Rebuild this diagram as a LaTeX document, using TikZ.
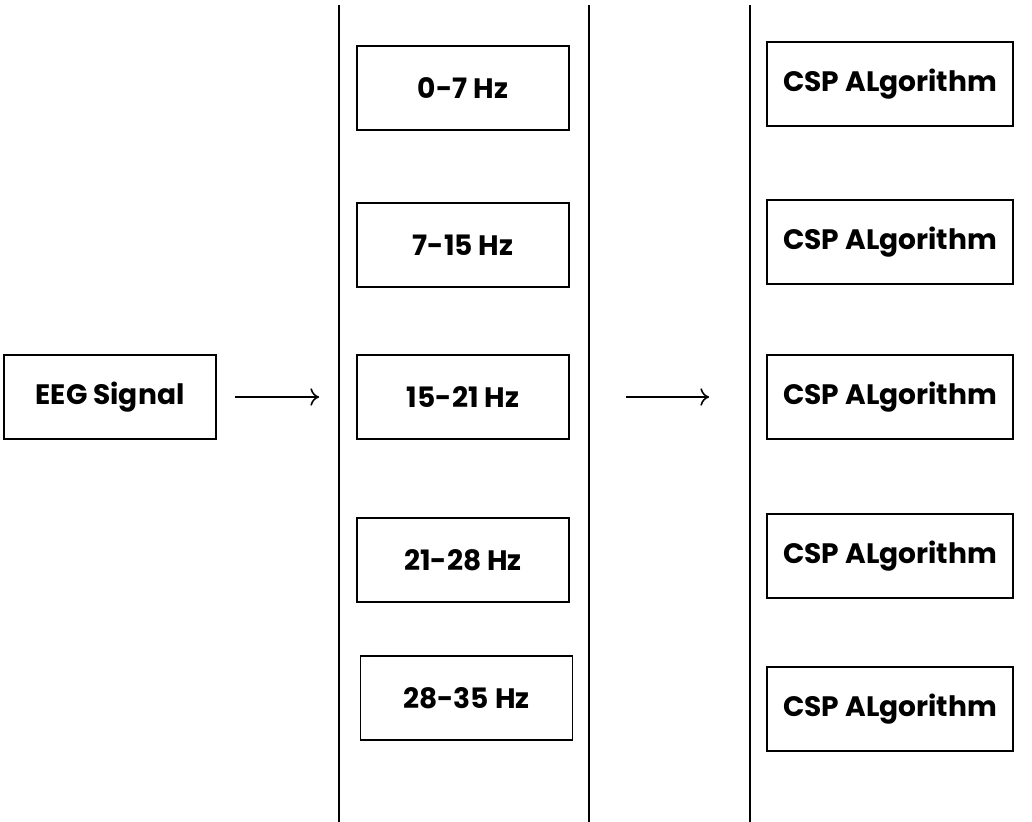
\documentclass[tikz,border=0pt]{standalone}
\usepackage{fontspec}
\setmainfont{Poppins}
\usepackage{tikz}
\usetikzlibrary{arrows.meta}

\tikzset{
    band/.style={draw, line width=1pt, minimum width=4.24cm, minimum height=1.68cm,
        inner sep=0pt, font=\fontsize{16}{19}\selectfont\bfseries},
    csp/.style={band, minimum width=4.92cm},
    flow/.style={-{To[length=5pt,width=10pt]}, line width=0.9pt}
}

\begin{document}
\begin{tikzpicture}[x=0.02cm, y=-0.02cm]
        \useasboundingbox (0,0) rectangle (1032,822);

        % input
        \node[band] (eeg) at (110,397) {EEG Signal};

        % frequency bands
        \node[band] (b1) at (463,88)  {0-7 Hz};
        \node[band] (b2) at (463,245) {7-15 Hz};
        \node[band] (b3) at (463,397) {15-21 Hz};
        \node[band] (b4) at (463,560) {21-28 Hz};
        \node[band] (b5) at (466.5,698) {28-35 Hz};

        % csp blocks
        \node[csp] (c1) at (890,84)  {CSP ALgorithm};
        \node[csp] (c2) at (890,242) {CSP ALgorithm};
        \node[csp] (c3) at (890,397) {CSP ALgorithm};
        \node[csp] (c4) at (890,556) {CSP ALgorithm};
        \node[csp] (c5) at (890,709) {CSP ALgorithm};

        % separators
        \draw[line width=1.1pt] (339,5) -- (339,822);
        \draw[line width=1.1pt] (589,5) -- (589,822);
        \draw[line width=1.1pt] (750,5) -- (750,822);

        \path[flow]
        (eeg) edge [shorten <=0.36cm, shorten >=0.74cm] (b3)
        (b3) edge [shorten <=1.12cm, shorten >=1.14cm] (c3);

    \end{tikzpicture}
\end{document}
